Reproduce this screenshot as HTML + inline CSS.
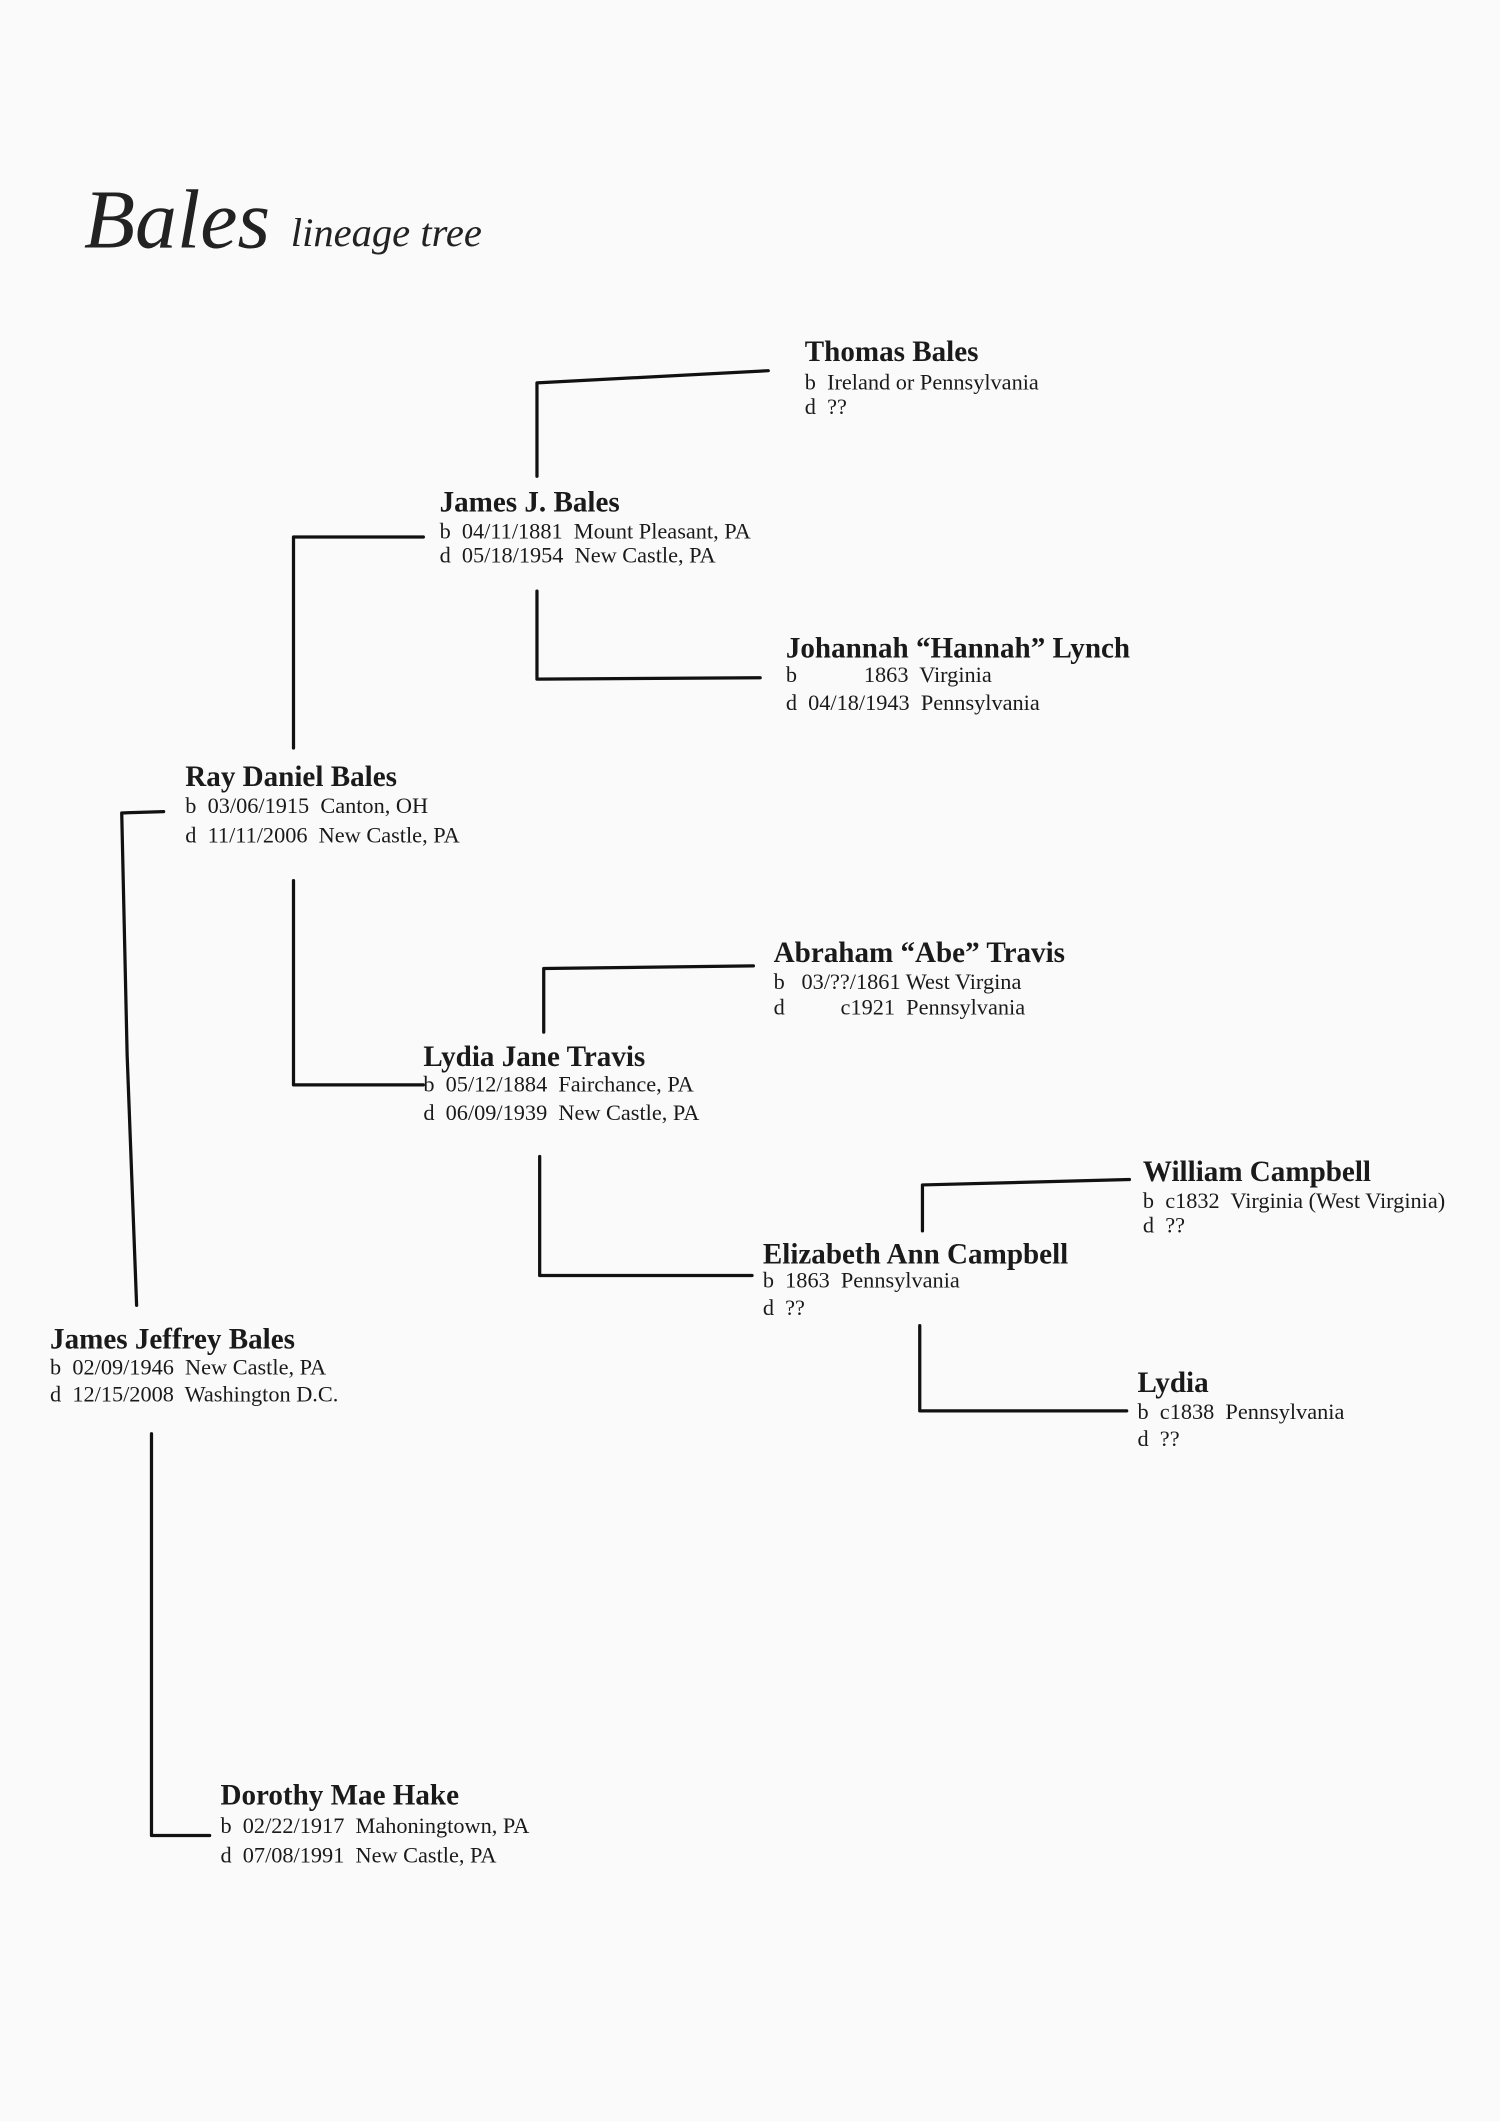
<!DOCTYPE html>
<html><head><meta charset="utf-8"><style>
html,body{margin:0;padding:0;background:#fafafa;}
svg{display:block;}
.n{font-family:"Liberation Serif",serif;font-weight:bold;font-size:21.5px;fill:#1a1a1a;}
.d{font-family:"Liberation Serif",serif;font-size:16.5px;fill:#1a1a1a;}
.t{font-family:"Liberation Serif",serif;font-style:italic;fill:#222;}
path{fill:none;stroke:#111;stroke-width:2.4;stroke-linecap:round;stroke-linejoin:round;}
</style></head><body>
<svg width="1500" height="2121" viewBox="0 0 1109 1568" xmlns="http://www.w3.org/2000/svg">
<rect width="1109" height="1568" fill="#fafafa"/>
<text class="t" x="62" y="183" font-size="62">Bales</text>
<text class="t" x="215" y="182" font-size="30">lineage tree</text>

<path d="M397 352 L397 283 L568 274"/>
<path d="M397 437 L397 502 L562 501"/>
<path d="M217 553 L217 397 L313 397"/>
<path d="M217 651 L217 802 L313 802"/>
<path d="M402 763 L402 716 L557 714"/>
<path d="M399 855 L399 943 L556 943"/>
<path d="M682 910 L682 876 L835 872"/>
<path d="M680 980 L680 1043 L833 1043"/>
<path d="M121 600 L90 601 L94 780 L101 965"/>
<path d="M112 1060 L112 1357 L155 1357"/>

<text class="n" x="595" y="267">Thomas Bales</text>
<text class="d" x="595" y="288">b&#160; Ireland or Pennsylvania</text>
<text class="d" x="595" y="306">d&#160; ??</text>

<text class="n" x="325" y="378">James J. Bales</text>
<text class="d" x="325" y="398">b&#160; 04/11/1881&#160; Mount Pleasant, PA</text>
<text class="d" x="325" y="416">d&#160; 05/18/1954&#160; New Castle, PA</text>

<text class="n" x="581" y="486">Johannah “Hannah” Lynch</text>
<text class="d" x="581" y="504">b&#160;&#160;&#160;&#160;&#160;&#160;&#160;&#160;&#160;&#160;&#160; 1863&#160; Virginia</text>
<text class="d" x="581" y="525">d&#160; 04/18/1943&#160; Pennsylvania</text>

<text class="n" x="137" y="581">Ray Daniel Bales</text>
<text class="d" x="137" y="601">b&#160; 03/06/1915&#160; Canton, OH</text>
<text class="d" x="137" y="623">d&#160; 11/11/2006&#160; New Castle, PA</text>

<text class="n" x="572" y="711">Abraham “Abe” Travis</text>
<text class="d" x="572" y="731">b&#160;&#160; 03/??/1861 West Virgina</text>
<text class="d" x="572" y="750">d&#160;&#160;&#160;&#160;&#160;&#160;&#160;&#160;&#160; c1921&#160; Pennsylvania</text>

<text class="n" x="313" y="788">Lydia Jane Travis</text>
<text class="d" x="313" y="807">b&#160; 05/12/1884&#160; Fairchance, PA</text>
<text class="d" x="313" y="828">d&#160; 06/09/1939&#160; New Castle, PA</text>

<text class="n" x="845" y="873">William Campbell</text>
<text class="d" x="845" y="893">b&#160; c1832&#160; Virginia (West Virginia)</text>
<text class="d" x="845" y="911">d&#160; ??</text>

<text class="n" x="564" y="934">Elizabeth Ann Campbell</text>
<text class="d" x="564" y="952">b&#160; 1863&#160; Pennsylvania</text>
<text class="d" x="564" y="972">d&#160; ??</text>

<text class="n" x="37" y="997">James Jeffrey Bales</text>
<text class="d" x="37" y="1016">b&#160; 02/09/1946&#160; New Castle, PA</text>
<text class="d" x="37" y="1036">d&#160; 12/15/2008&#160; Washington D.C.</text>

<text class="n" x="841" y="1029">Lydia</text>
<text class="d" x="841" y="1049">b&#160; c1838&#160; Pennsylvania</text>
<text class="d" x="841" y="1069">d&#160; ??</text>

<text class="n" x="163" y="1334">Dorothy Mae Hake</text>
<text class="d" x="163" y="1355">b&#160; 02/22/1917&#160; Mahoningtown, PA</text>
<text class="d" x="163" y="1377">d&#160; 07/08/1991&#160; New Castle, PA</text>
</svg>
</body></html>
